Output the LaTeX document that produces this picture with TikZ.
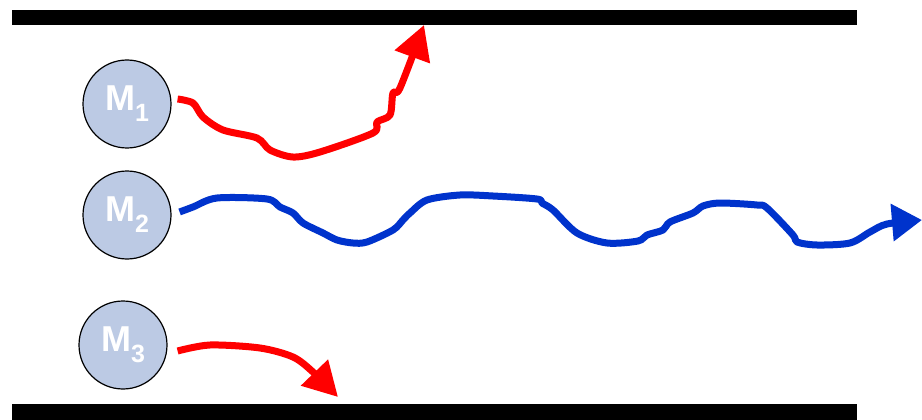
\documentclass[tikz,border=0pt]{standalone}
\usepackage{fontspec}
\setmainfont{Liberation Sans}
\usetikzlibrary{arrows.meta}
\definecolor{mFill}{RGB}{188,202,228}
\definecolor{walkRed}{RGB}{255,0,0}
\definecolor{walkBlue}{RGB}{0,51,204}
\newcommand{\molname}[1]{M\raisebox{-11pt}{\fontsize{25}{25}\selectfont #1}}

\begin{document}
\begin{tikzpicture}[x=1pt, y=-1pt,
    molec/.style={circle, draw=black, line width=1.2pt, fill=mFill,
      minimum size=88pt, inner sep=0pt, text=white,
      font=\fontsize{36}{36}\selectfont\bfseries},
    walk/.style={line width=7pt, line join=round,
      -{Triangle[length=34pt, width=36pt]}}]
    \useasboundingbox (0,0) rectangle (922,420);
    % --- walls ---
    \fill[black] (12,10) rectangle (857,25);
    \fill[black] (12,404) rectangle (857,420);
    % --- molecules ---
    \node[molec] (m1) at (127,104) {\molname{1}};
    \node[molec] (m2) at (127,215) {\molname{2}};
    \node[molec] (m3) at (123,345) {\molname{3}};
    % --- start and end points ---
    \coordinate (s1) at ([xshift=6pt, yshift=5pt]m1.east);
    \coordinate (s2) at ([xshift=8pt, yshift=3pt]m2.east);
    \coordinate (s3) at ([xshift=10pt, yshift=-6pt]m3.east);
    \coordinate (e1) at (424,25);
    \coordinate (e2) at (922,220);
    \coordinate (e3) at (338,397);
    % --- paths ---
    \draw[walk, walkRed] plot[smooth, tension=0.5] coordinates {(s1)
      (193,103) (203,117) (223,130) (257,138) (270,150) (293,157)
      (320,152) (373,133) (377,122) (390,115) (393,93) (400,88) (e1)};
    \draw[walk, walkBlue, -{Triangle[length=30pt, width=36pt]}]
      plot[smooth, tension=0.5] coordinates {(s2)
      (193,207) (217,198) (267,199) (280,207) (293,213) (303,223)
      (323,233) (337,240) (353,243) (367,242) (393,230) (403,220)
      (410,213) (427,200) (460,195) (493,196) (537,199) (542,203)
      (553,210) (577,233) (607,243) (638,241) (647,235) (663,230)
      (670,222) (693,213) (703,206) (720,203) (757,205) (767,208)
      (793,235) (797,242) (817,245) (850,243) (870,232) (887,224) (e2)};
    \draw[walk, walkRed] plot[smooth, tension=0.5] coordinates {(s3)
      (210,345) (260,348) (293,357) (313,372) (e3)};
\end{tikzpicture}
\end{document}
